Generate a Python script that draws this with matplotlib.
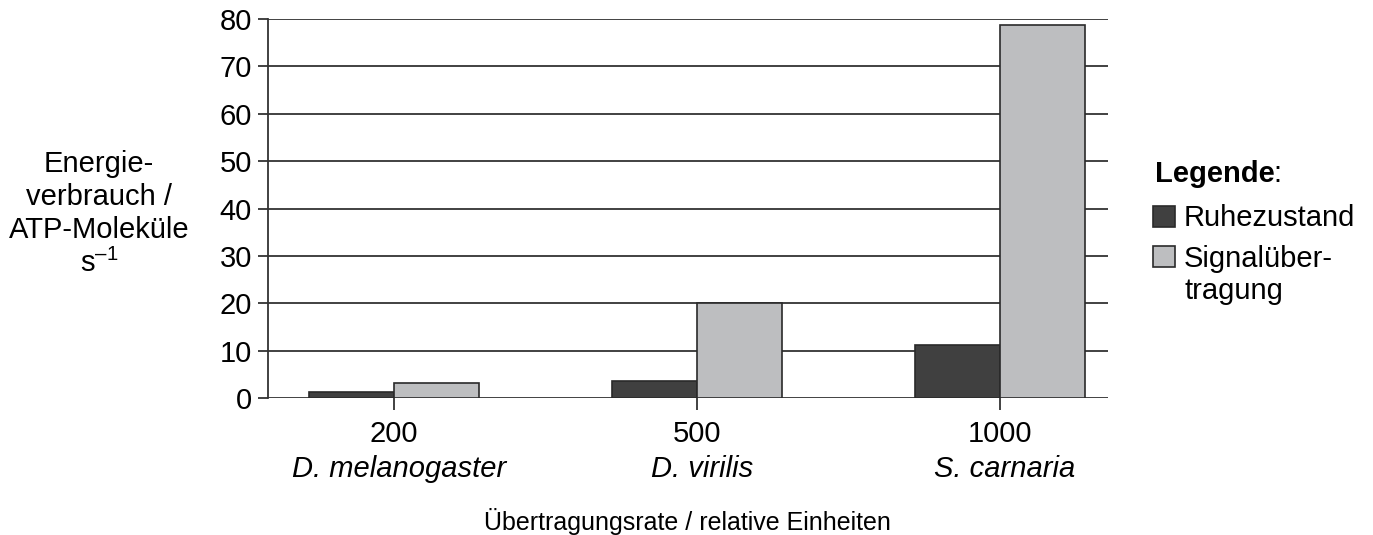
import numpy as np
import matplotlib.pyplot as plt

plt.rcParams['font.family'] = ['Liberation Sans', 'DejaVu Sans']
plt.rcParams['mathtext.fontset'] = 'custom'
plt.rcParams['mathtext.rm'] = 'Liberation Sans'

# data
rates = ["200", "500", "1000"]
species = ["D. melanogaster", "D. virilis", "S. carnaria"]
ruhe = [1.3, 3.7, 11.2]
signal = [3.2, 20.0, 78.7]
yticks = [0, 10, 20, 30, 40, 50, 60, 70, 80]

dark = "#404040"
light = "#bdbec0"
edge = "#2a2a2a"
fs = 21

fig = plt.figure(figsize=(13.73, 5.35), dpi=100)
ax = fig.add_axes([0.1952, 0.256, 0.6118, 0.7085])

x = np.arange(len(rates))
w = 0.28
b1 = ax.bar(x - w / 2, ruhe, w, color=dark, edgecolor=edge, linewidth=1.2, zorder=3)
b2 = ax.bar(x + w / 2, signal, w, color=light, edgecolor=edge, linewidth=1.2, zorder=3)

ax.set_ylim(0, 80)
ax.set_xlim(-0.416, 2.356)
ax.set_yticks(yticks)
ax.yaxis.grid(True, color="#333333", linewidth=1.3, zorder=0)
ax.set_axisbelow(True)
for s in ["top", "right", "bottom"]:
    ax.spines[s].set_visible(False)
ax.spines["left"].set_color("#333333")
ax.spines["left"].set_linewidth(1.3)

ax.tick_params(axis="y", length=7.5, width=1.3, color="#333333", labelsize=fs, pad=4)
ax.tick_params(axis="x", length=8.5, width=1.3, color="#333333", labelsize=fs, pad=7)
ax.set_xticks(x)
ax.set_xticklabels(rates)
for xi, sp in zip(x, species):
    ax.text(xi + 0.016, -16.7, sp, style="italic", fontsize=fs, ha="center", va="baseline")

fig.text(0.501, 0.026, "Übertragungsrate / relative Einheiten", fontsize=18,
         ha="center", va="center")

fig.text(0.072, 0.60, "Energie-\nverbrauch /\nATP-Moleküle\n$\\mathregular{s^{–1}}$",
         fontsize=fs, ha="center", va="center", linespacing=1.22)

fig.text(0.8415, 0.675, "Legende", fontsize=fs, fontweight="bold", ha="left", va="center")
fig.text(0.9275, 0.675, ":", fontsize=fs, ha="left", va="center")
leg = fig.legend([b1, b2], ["Ruhezustand", "Signalüber-"],
                 loc="upper left", bbox_to_anchor=(0.8395, 0.618), frameon=False,
                 fontsize=fs, handlelength=0.75, handleheight=0.75, handletextpad=0.3,
                 labelspacing=0.42, borderaxespad=0, borderpad=0)
fig.text(0.863, 0.457, "tragung", fontsize=fs, ha="left", va="center")

fig.savefig("out.png", dpi=100)
